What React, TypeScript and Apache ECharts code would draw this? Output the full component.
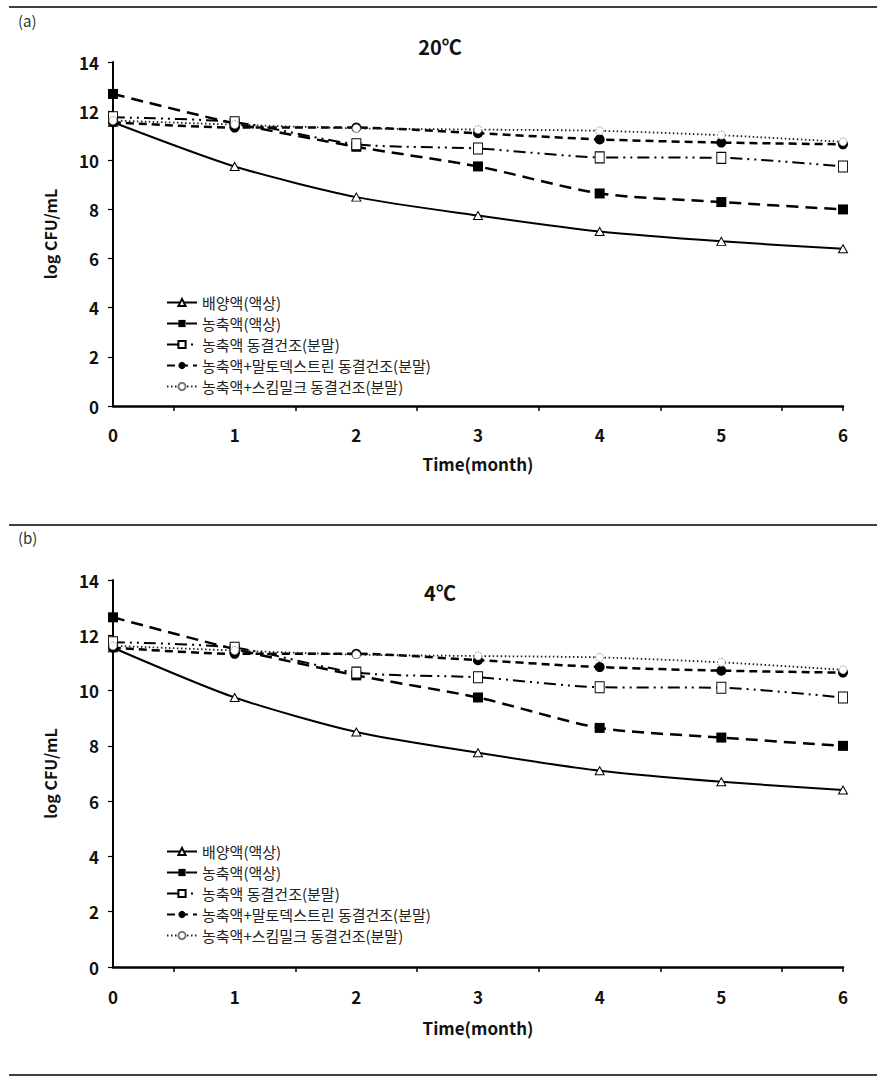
import React, { useEffect, useRef } from "react";
import * as echarts from "echarts";

const months = [0, 1, 2, 3, 4, 5, 6];
const seriesNames = [
  "배양액(액상)",
  "농축액(액상)",
  "농축액 동결건조(분말)",
  "농축액+말토덱스트린 동결건조(분말)",
  "농축액+스킴밀크 동결건조(분말)",
];
const yTicks = [0, 2, 4, 6, 8, 10, 12, 14];
const xTickPositions = [0.5, 1.5, 2.5, 3.5, 4.5, 5.5, 6];

// (a) 20℃
const a_broth = [11.55, 9.75, 8.5, 7.75, 7.1, 6.7, 6.4];
const a_conc = [12.7, 11.5, 10.55, 9.75, 8.65, 8.3, 8.0];
const a_concFD = [11.75, 11.55, 10.65, 10.48, 10.12, 10.1, 9.75];
const a_maltoFD = [11.55, 11.33, 11.33, 11.1, 10.85, 10.72, 10.65];
const a_skimFD = [11.62, 11.45, 11.3, 11.25, 11.2, 11.02, 10.75];

// (b) 4℃
const b_broth = [11.55, 9.75, 8.5, 7.75, 7.1, 6.7, 6.4];
const b_conc = [12.65, 11.5, 10.55, 9.75, 8.65, 8.3, 8.0];
const b_concFD = [11.75, 11.55, 10.65, 10.48, 10.12, 10.1, 9.75];
const b_maltoFD = [11.55, 11.33, 11.33, 11.1, 10.85, 10.72, 10.65];
const b_skimFD = [11.62, 11.45, 11.3, 11.25, 11.2, 11.02, 10.75];

const FONT = "'Noto Sans CJK KR', 'Noto Sans', sans-serif";

const styles: any[] = [
  {
    symbol: "triangle",
    symbolSize: [9, 8],
    itemStyle: { color: "#fff", borderColor: "#000", borderWidth: 1 },
    lineStyle: { color: "#000", width: 2, type: "solid" },
  },
  {
    symbol: "rect",
    symbolSize: 10,
    itemStyle: { color: "#000", borderColor: "#000", borderWidth: 0 },
    lineStyle: { color: "#000", width: 2.5, type: [12, 7] },
  },
  {
    symbol: "rect",
    symbolSize: [9, 11],
    itemStyle: { color: "#fff", borderColor: "#000", borderWidth: 1 },
    lineStyle: { color: "#000", width: 2, type: [12, 5, 2, 5, 2, 5] },
  },
  {
    symbol: "circle",
    symbolSize: 10,
    itemStyle: { color: "#000", borderColor: "#000", borderWidth: 0 },
    lineStyle: { color: "#000", width: 2.5, type: [8, 5] },
  },
  {
    symbol: "circle",
    symbolSize: 8,
    itemStyle: { color: "#fff", borderColor: "#777", borderWidth: 1, borderType: [1.5, 1.5] },
    lineStyle: { color: "#222", width: 1.8, type: [1.5, 2.5] },
  },
];

function makeSeries(sets: number[][], axisIndex: number) {
  return sets.map((vals, i) => ({
    type: "line",
    name: seriesNames[i],
    xAxisIndex: axisIndex,
    yAxisIndex: axisIndex,
    data: months.map((m, j) => [m, vals[j]]),
    smooth: 0.25,
    showSymbol: true,
    symbol: styles[i].symbol,
    symbolSize: styles[i].symbolSize,
    itemStyle: styles[i].itemStyle,
    lineStyle: styles[i].lineStyle,
    emphasis: { disabled: true },
    z: 2 + i,
  }));
}

function makeXAxis(gridIndex: number, nameGap: number, labelMargin: number) {
  return {
    type: "value",
    gridIndex,
    min: 0,
    max: 6,
    interval: 1,
    name: "Time(month)",
    nameLocation: "middle",
    nameGap,
    nameTextStyle: { fontFamily: FONT, fontWeight: "bold", fontSize: 17, color: "#111" },
    axisLine: { show: true, onZero: false, lineStyle: { color: "#000", width: 2.5 } },
    axisTick: {
      show: true,
      inside: false,
      length: 5,
      customValues: xTickPositions,
      lineStyle: { color: "#000", width: 1.5 },
    },
    axisLabel: {
      margin: labelMargin,
      fontFamily: FONT,
      fontWeight: "bold",
      fontSize: 17,
      color: "#111",
    },
    splitLine: { show: false },
  };
}

function makeYAxis(gridIndex: number) {
  return {
    type: "value",
    gridIndex,
    min: 0,
    max: 14,
    interval: 2,
    name: "log CFU/mL",
    nameLocation: "middle",
    nameGap: 55,
    nameRotate: 90,
    nameTextStyle: { fontFamily: FONT, fontWeight: "bold", fontSize: 16, color: "#111" },
    axisLine: { show: true, onZero: false, lineStyle: { color: "#000", width: 2 } },
    axisTick: { show: true, inside: false, length: 5, lineStyle: { color: "#000", width: 1.2 } },
    axisLabel: {
      margin: 14,
      fontFamily: FONT,
      fontWeight: "bold",
      fontSize: 17,
      color: "#111",
      customValues: yTicks,
    },
    splitLine: { show: false },
  };
}

function makeLegend(top: number) {
  return {
    orient: "vertical",
    left: 161,
    top,
    itemWidth: 30,
    itemHeight: 9,
    itemGap: 6,
    selectedMode: false,
    data: seriesNames,
    textStyle: { fontFamily: FONT, fontSize: 15, color: "#222", padding: [0, 0, 0, 0] },
  };
}

export default function App() {
  const ref = useRef<HTMLDivElement>(null);
  useEffect(() => {
    if (!ref.current) return;
    const chart = echarts.init(ref.current, undefined, { renderer: "svg" });
    const hLine = (y: number) => ({
      type: "line",
      shape: { x1: 9, y1: y, x2: 877, y2: y },
      style: { stroke: "#000", lineWidth: 1.3 },
      silent: true,
    });
    const txt = (x: number, y: number, text: string, size: number, bold: boolean, align = "left") => ({
      type: "text",
      x,
      y,
      style: {
        text,
        fontFamily: FONT,
        fontSize: size,
        fontWeight: bold ? "bold" : "normal",
        fill: bold ? "#111" : "#333",
        textAlign: align,
        textVerticalAlign: "middle",
      },
      silent: true,
    });
    chart.setOption({
      animation: false,
      backgroundColor: "#fff",
      grid: [
        { left: 113, right: 43, top: 62, height: 344, containLabel: false },
        { left: 113, right: 43, top: 580, height: 387, containLabel: false },
      ],
      xAxis: [makeXAxis(0, 49, 20), makeXAxis(1, 52, 21)],
      yAxis: [makeYAxis(0), makeYAxis(1)],
      legend: [makeLegend(290), makeLegend(839)],
      series: [
        ...makeSeries([a_broth, a_conc, a_concFD, a_maltoFD, a_skimFD], 0),
        ...makeSeries([b_broth, b_conc, b_concFD, b_maltoFD, b_skimFD], 1),
      ],
      graphic: [
        hLine(7),
        hLine(525),
        hLine(1075),
        txt(18, 20, "(a)", 15, false),
        txt(18, 537, "(b)", 15, false),
        txt(440, 46, "20℃", 20, true, "center"),
        txt(440, 592, "4℃", 20, true, "center"),
      ],
    });
    return () => chart.dispose();
  }, []);
  return (
    <div
      ref={ref}
      style={{ position: "absolute", left: 0, top: 0, width: 886, height: 1078, background: "#fff" }}
    />
  );
}
